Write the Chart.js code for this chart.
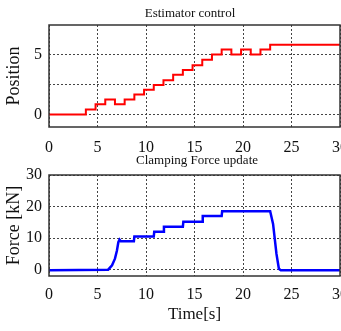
<!DOCTYPE html>
<html>
<head>
<meta charset="utf-8">
<script src="https://cdn.jsdelivr.net/npm/chart.js@4"></script>
<style>
  body { margin: 0; background: #fff; }
  #wrap { position: relative; width: 341px; height: 331px; }
  .box { position: absolute; left: 0; width: 341px; }
</style>
</head>
<body>
<div id="wrap">
  <div class="box" style="top:0;height:160px"><canvas id="posChart"></canvas></div>
  <div class="box" style="top:150px;height:181px"><canvas id="forceChart"></canvas></div>
</div>
<script>
// estimator position (step levels, each level starts at its time)
const posTime = [0, 3.8, 4.8, 5.8, 6.8, 7.8, 8.8, 9.8, 10.8, 11.8, 12.8, 13.8, 14.8, 15.8, 16.8, 17.8, 18.8, 19.8, 20.8, 21.8, 22.8, 30];
const posValue = [0, 0.4, 0.85, 1.25, 0.85, 1.25, 1.65, 2.05, 2.45, 2.85, 3.3, 3.7, 4.1, 4.55, 5.0, 5.4, 5.0, 5.4, 5.0, 5.4, 5.8, 5.8];
const posTicks = [0, 2.5, 5];
const posLabels = ['0', '', '5'];

// clamping force [kN]
const forceTime = [0, 6.1, 6.5, 6.8, 7.0, 7.15, 7.27, 7.4, 8.75, 8.8, 10.8, 10.85, 11.8, 11.85, 13.8, 13.85, 15.8, 15.85, 17.8, 17.85, 22.8, 23.1, 23.45, 23.7, 23.9, 30];
const forceValue = [-0.2, 0, 1.4, 3.5, 6.0, 8.7, 9.5, 9.0, 9.0, 10.5, 10.5, 12.0, 12.0, 13.6, 13.6, 15.2, 15.2, 17.0, 17.0, 18.5, 18.5, 14.5, 5.0, 0.3, -0.2, -0.2];
const forceTicks = [0, 10, 20, 30];

const timeTicks = [0, 5, 10, 15, 20, 25, 30];

const serif = 'Liberation Serif, Times New Roman, serif';

const framePlugin = {
  id: 'frame',
  afterDatasetsDraw(chart, args, opts) {
    const a = chart.chartArea;
    const ctx = chart.ctx;
    ctx.save();
    ctx.strokeStyle = '#333';
    ctx.lineWidth = 1.5;
    ctx.strokeRect(a.left, a.top, a.right - a.left, a.bottom - a.top);
    ctx.fillStyle = '#111';
    ctx.font = '13px ' + serif;
    ctx.textAlign = 'center';
    ctx.textBaseline = 'middle';
    ctx.fillText(opts.text, opts.x, opts.y);
    ctx.restore();
  }
};

function makeChart(id, xs, ys, color, width, stepped, yMin, yMax, yTicks, yLabels, yTitle, opt) {
  new Chart(document.getElementById(id), {
    type: 'line',
    data: {
      datasets: [{
        data: xs.map((x, i) => ({ x: x, y: ys[i] })),
        borderColor: color,
        borderWidth: width,
        pointRadius: 0,
        stepped: stepped,
        tension: 0
      }]
    },
    options: {
      responsive: true,
      maintainAspectRatio: false,
      animation: false,
      layout: { autoPadding: false, padding: { top: opt.top, right: 1, left: 0, bottom: 0 } },
      plugins: {
        legend: { display: false },
        tooltip: { enabled: false },
        frame: { text: opt.title, x: opt.titleX, y: opt.titleY }
      },
      scales: {
        x: {
          type: 'linear',
          min: 0,
          max: 30,
          afterBuildTicks: s => { s.ticks = timeTicks.map(v => ({ value: v })); },
          afterFit: s => { s.height = opt.xHeight; s.paddingLeft = 0; s.paddingRight = 0; },
          ticks: { color: '#111', padding: opt.xPad, maxRotation: 0, font: { family: serif, size: 16 } },
          grid: { color: '#444', drawTicks: false },
          border: { display: false, dash: [2, 2] },
          title: {
            display: !!opt.xTitle,
            text: opt.xTitle,
            color: '#111',
            font: { family: serif, size: 17 },
            padding: { top: 0, bottom: 6 }
          }
        },
        y: {
          min: yMin,
          max: yMax,
          afterBuildTicks: s => { s.ticks = yTicks.map(v => ({ value: v })); },
          afterFit: s => { s.width = 49; s.paddingTop = 0; s.paddingBottom = 0; },
          ticks: {
            color: '#111',
            padding: 7,
            font: { family: serif, size: 16 },
            callback: (v, i) => yLabels[i]
          },
          grid: { color: '#444', drawTicks: false },
          border: { display: false, dash: [2, 2] },
          title: {
            display: true,
            text: yTitle,
            color: '#111',
            font: { family: serif, size: 18 },
            padding: { top: 3, bottom: 0 }
          }
        }
      }
    },
    plugins: [framePlugin]
  });
}

makeChart('posChart', posTime, posValue, '#ff0000', 2, 'before', -1.05, 7.45,
  posTicks, posLabels, 'Position',
  { top: 25, xHeight: 33, xPad: 11, title: 'Estimator control', titleX: 190, titleY: 14 });

makeChart('forceChart', forceTime, forceValue, '#0000ff', 2.5, false, -2, 30,
  forceTicks, forceTicks.map(String), 'Force [kN]',
  { top: 25, xHeight: 55, xPad: 9, title: 'Clamping Force update', titleX: 197, titleY: 11, xTitle: 'Time[s]' });
</script>
</body>
</html>
